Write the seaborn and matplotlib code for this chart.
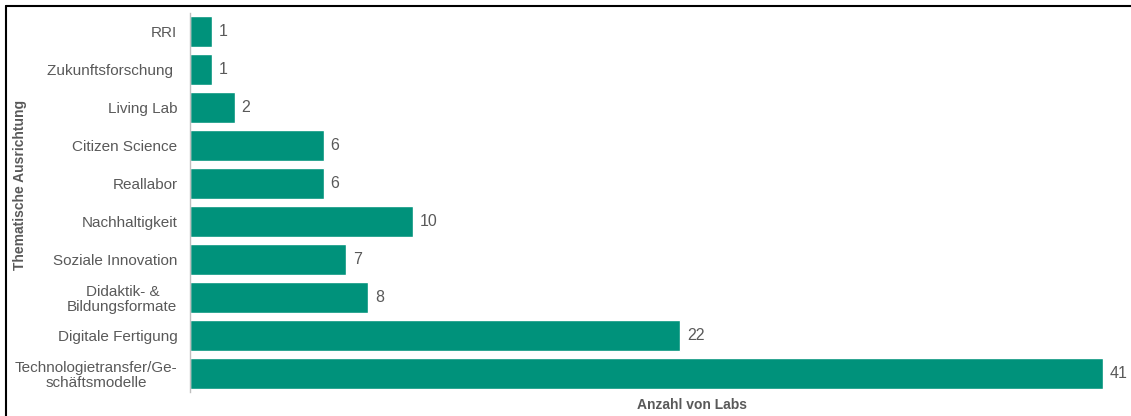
import matplotlib
matplotlib.use("Agg")
import matplotlib.pyplot as plt
from matplotlib.lines import Line2D
import pandas as pd
import seaborn as sns

# Daten
kategorien = ["RRI", "Zukunftsforschung ", "Living Lab", "Citizen Science", "Reallabor",
              "Nachhaltigkeit", "Soziale Innovation", "Didaktik- &\nBildungsformate",
              "Digitale Fertigung", "Technologietransfer/Ge-\nschäftsmodelle"]
anzahl = [1, 1, 2, 6, 6, 10, 7, 8, 22, 41]

BAR = "#00927B"
TXT = "#595959"


def main():
    df = pd.DataFrame({"Thema": kategorien, "Anzahl": anzahl})

    sns.set_theme(style="white")
    plt.rcParams["font.family"] = ["Liberation Sans", "DejaVu Sans"]

    fig = plt.figure(figsize=(11.31, 4.16), dpi=100)
    ax = fig.add_axes([190 / 1131, 24 / 416, 913 / 1131, 379 / 416])

    sns.barplot(data=df, y="Thema", x="Anzahl", orient="h", color=BAR,
                saturation=1, width=0.82, ax=ax)
    ax.bar_label(ax.containers[0], padding=5, fontsize=11.5, color=TXT)

    ax.set_xlim(0, 41)
    ax.set_ylim(9.5, -0.5)
    ax.set_xticks([])
    ax.tick_params(axis="y", length=0, pad=9, labelsize=11, labelcolor=TXT)
    for lab in ax.get_yticklabels():
        lab.set_linespacing(1.1)
        lab.set_multialignment("center")

    for s in ["top", "right", "bottom"]:
        ax.spines[s].set_visible(False)
    ax.spines["left"].set_color("#BFBFBF")
    ax.spines["left"].set_linewidth(1)

    ax.set_xlabel("Anzahl von Labs", fontsize=10, fontweight="bold", color=TXT)
    ax.xaxis.set_label_coords((692 - 190) / 913, (392 - 398) / 379)
    ax.set_ylabel("Thematische Ausrichtung", fontsize=10, fontweight="bold", color=TXT)
    ax.yaxis.set_label_coords((27 - 190) / 913, (392 - 185) / 379)

    # Rahmen oben und links wie im Original
    fig.add_artist(Line2D([6 / 1131, 6 / 1131], [0, 1 - 6 / 416], color="black", lw=1.5))
    fig.add_artist(Line2D([6 / 1131, 1], [1 - 6 / 416, 1 - 6 / 416], color="black", lw=1.5))

    fig.savefig("out.png", dpi=100)


if __name__ == "__main__":
    main()
